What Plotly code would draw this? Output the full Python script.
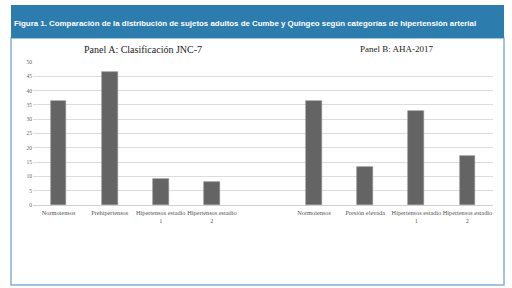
import plotly.graph_objects as go

# Data
cats_a = ["Normotensos", "Prehipertensos", "Hipertensos estadio<br>1", "Hipertensos estadio<br>2"]
vals_a = [36.4, 46.4, 9.0, 8.2]
cats_b = ["Normotensos", "Presión elevada", "Hipertensos estadio<br>1", "Hipertensos estadio<br>2"]
vals_b = [36.4, 13.4, 33.0, 17.2]
x_a = [0, 1, 2, 3]
x_b = [5, 6, 7, 8]
tick_vals = x_a + [4] + x_b
tick_text = cats_a + [""] + cats_b
y_ticks = list(range(0, 51, 5))

title_text = "Figura 1. Comparación de la distribución de sujetos adultos de Cumbe y Quingeo según categorías de hipertensión arterial"
panel_a = "Panel A: Clasificación JNC-7"
panel_b = "Panel B: AHA-2017"

BAR = "#646464"

fig = go.Figure()
for xs, vs in ((x_a, vals_a), (x_b, vals_b)):
    fig.add_trace(go.Bar(x=xs, y=vs, width=0.31,
                         marker=dict(color=BAR, line=dict(color="#8a8a8a", width=0.6)),
                         showlegend=False, hoverinfo="skip"))

# layout geometry in pixels
L, R, T, B = 33, 19, 62, 83
W, H = 512, 288
pw, ph = W - L - R, H - T - B

def px(x):
    return (x - L) / pw

def py(y):
    return (H - B - y) / ph

shapes = [
    dict(type="rect", xref="paper", yref="paper", x0=px(11), x1=px(504), y0=py(285), y1=py(38),
         line=dict(color="#86b0d4", width=1.5), fillcolor="white", layer="below"),
    dict(type="rect", xref="paper", yref="paper", x0=px(11), x1=px(504), y0=py(38), y1=py(5),
         line=dict(width=0), fillcolor="#2d7cae", layer="below"),
]

annotations = [
    dict(text="<b>" + title_text + "</b>", xref="paper", yref="paper", x=px(12), y=py(24),
         xanchor="left", yanchor="middle", showarrow=False,
         font=dict(family="Liberation Sans, Arial", size=7.9, color="white")),
    dict(text=panel_a, xref="paper", yref="paper", x=px(143), y=py(49),
         xanchor="center", yanchor="middle", showarrow=False,
         font=dict(family="Liberation Serif, Times New Roman", size=10, color="#222222")),
    dict(text=panel_b, xref="paper", yref="paper", x=px(396), y=py(49),
         xanchor="center", yanchor="middle", showarrow=False,
         font=dict(family="Liberation Serif, Times New Roman", size=9, color="#222222")),
]

fig.update_layout(
    width=W, height=H,
    margin=dict(l=L, r=R, t=T, b=B, pad=0),
    paper_bgcolor="white", plot_bgcolor="white",
    shapes=shapes, annotations=annotations,
    bargap=0,
    xaxis=dict(range=[-0.5, 8.5], tickmode="array", tickvals=tick_vals, ticktext=tick_text,
               showgrid=False, zeroline=False, showline=False, ticks="",
               ticklabelstandoff=3,
               tickfont=dict(family="Liberation Serif, Times New Roman", size=6.3, color="#555555"),
               tickangle=0, fixedrange=True),
    yaxis=dict(range=[0, 50], tickmode="array", tickvals=y_ticks,
               showgrid=True, gridcolor="#dcdcdc", gridwidth=1,
               zeroline=True, zerolinecolor="#cfcfcf", zerolinewidth=1,
               showline=False, ticks="",
               tickfont=dict(family="Liberation Serif, Times New Roman", size=5.5, color="#666666"),
               fixedrange=True),
)

fig.write_html("out.html")
